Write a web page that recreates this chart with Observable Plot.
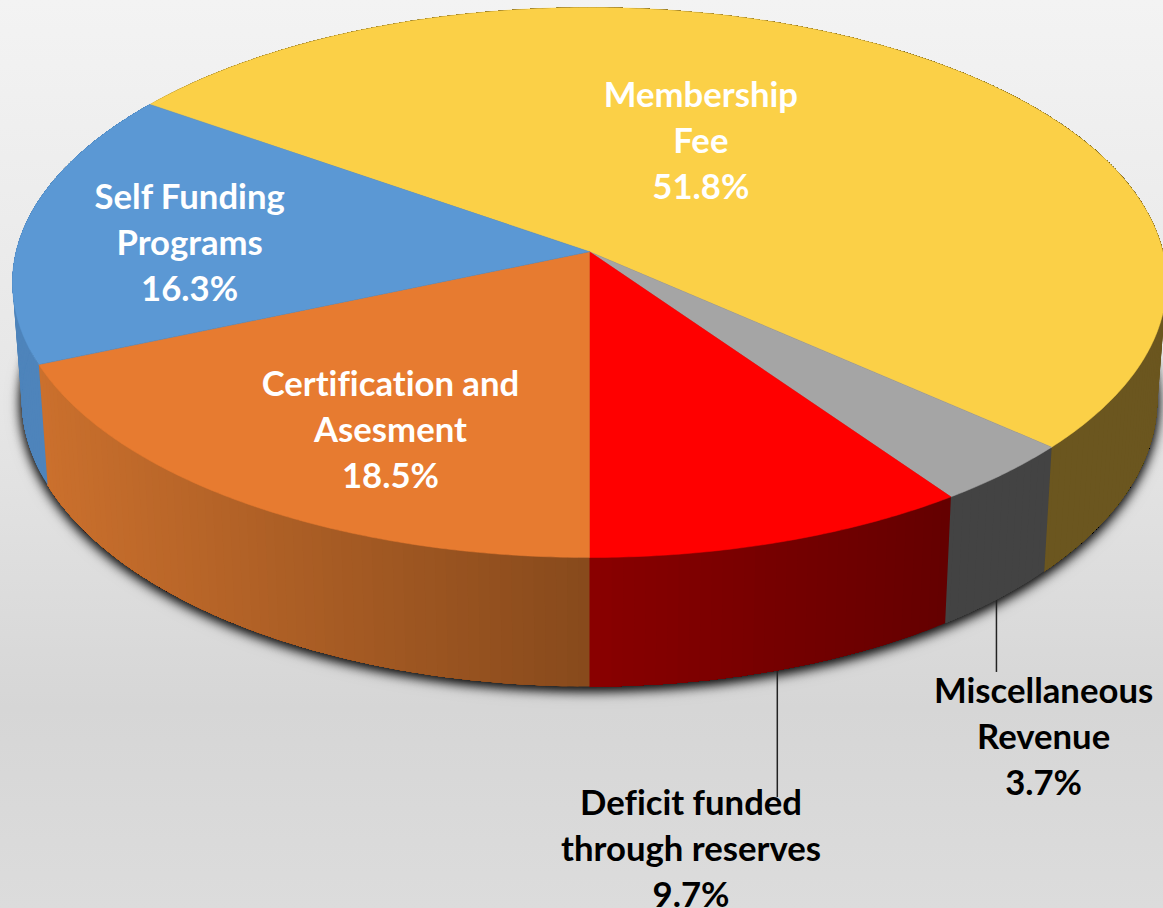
<!DOCTYPE html>
<html>
<head>
<meta charset="utf-8">
<script src="https://cdn.jsdelivr.net/npm/d3@7"></script>
<script src="https://cdn.jsdelivr.net/npm/@observablehq/plot@0.6"></script>
<style>
html,body{margin:0;padding:0;width:1163px;height:908px;overflow:hidden;
background:linear-gradient(180deg,#f3f3f3 0%,#e6e6e6 45%,#d6d6d6 78%,#dcdcdc 100%);}
svg{display:block;}
svg text{font-variant-ligatures:none;font-feature-settings:"liga" 0;}
</style>
</head>
<body>
<div id="chart"></div>
<script>
// Data, clockwise from the yellow slice
const categories = ["Membership Fee", "Miscellaneous Revenue", "Deficit funded through reserves", "Certification and Asesment", "Self Funding Programs"];
const shares = [51.8, 3.7, 9.7, 18.5, 16.3];
const labelLines = ["Membership\nFee\n51.8%", "Miscellaneous\nRevenue\n3.7%", "Deficit funded\nthrough reserves\n9.7%", "Certification and\nAsesment\n18.5%", "Self Funding\nPrograms\n16.3%"];
const topColors = ["#fbd047", "#a5a5a5", "#ff0000", "#e77b30", "#5b98d4"];
const wallFrom = ["#6b561f", "#434343", "#640000", "#884a1c", "#4e84bb"];
const wallTo = ["#6b561f", "#434343", "#8a0000", "#cb702d", "#4e84bb"];
const textColors = ["#fff", "#000", "#000", "#fff", "#fff"];

// Chart layout in disc units
const labelX = [0.193, 0.787, 0.176, -0.345, -0.693];
const labelY = [-0.524, 1.644, 2.05, 0.527, -0.153];
const leaderEndY = [null, 1.418, 1.873, null, null];
const leaderShift = [0, -0.003, -0.003, 0, 0];

const cx = 589, rx = 577, cy = 282, ry = 275, W = 1163, H = 908;
const tilt = 0.112;            // offset of the apex from the ellipse centre
const startAngle = 180 - (shares[0] + shares[1] + shares[2]) * 3.6;

const rad = d => d * Math.PI / 180;
function rimPoint(angle) {
  const sx = Math.sin(rad(angle)), sy = Math.cos(rad(angle)), den = 1 + tilt * sy;
  return [sx * Math.sqrt(1 - tilt * tilt) / den, -(sy + tilt) / den];
}
const apex = [0, -tilt];
const under = ([x, y]) => [x * 0.984, 0.425 + 1.044 * y];

// cumulative slices
let cum = startAngle;
const slices = shares.map((s, i) => {
  const a0 = cum; cum += s * 3.6;
  return {i, a0, a1: cum, mid: (a0 + cum) / 2};
});

const topRows = [], wallRows = [];
slices.forEach(s => {
  const fine = 2;
  const steps = Math.ceil((s.a1 - s.a0) * fine);
  const angles = d3.range(steps + 1).map(k => s.a0 + (s.a1 - s.a0) * k / steps);
  const rim = angles.map(rimPoint);
  [apex, ...rim, apex].forEach(([x, y]) =>
    topRows.push({id: s.i, x, y, color: topColors[s.i]}));
  const xa = under(rim[0])[0], xb = under(rim[steps])[0];
  const mix = d3.interpolateRgb(wallFrom[s.i], wallTo[s.i]);
  // each band of the wall runs on to the slice's end, so the next band paints over it without seams
  const bandEvery = 2;
  for (let k = 0; k < steps; k += bandEvery) {
    const t = Math.max(0, Math.min(1, (under(rim[k])[0] - xa) / (xb - xa)));
    const color = mix(t);
    const upper = rim.slice(k);
    const outline = [...upper, ...upper.slice().reverse().map(under), upper[0]];
    outline.forEach(([x, y]) =>
      wallRows.push({id: s.i + "-" + k, x, y, color}));
  }
});

const rimRows = d3.range(0, 361, 1).map(a => {
  const [x, y] = under(rimPoint(a));
  return {x, y};
});

const leaders = slices.filter(s => leaderEndY[s.i] !== null).map(s => {
  const [x, y] = under(rimPoint(s.mid));
  return {x: x + leaderShift[s.i], y1: y, y2: leaderEndY[s.i]};
});

const labels = slices.map(s => ({
  x: labelX[s.i], y: labelY[s.i], text: labelLines[s.i], color: textColors[s.i]
}));

const fontSize = 34.7;
const chart = Plot.plot({
  width: W, height: H, margin: 0,
  x: {domain: [(0 - cx) / rx, (W - cx) / rx], range: [0, W], axis: null},
  y: {domain: [(0 - cy) / ry, (H - cy) / ry], range: [0, H], axis: null},
  color: {type: "identity"},
  style: {background: "transparent"},
  marks: [
    Plot.line(rimRows, {x: "x", y: "y", fill: "#333", stroke: "none",
      imageFilter: "drop-shadow(0px 3px 6px rgba(0,0,0,0.95)) drop-shadow(0px 1px 4px rgba(0,0,0,0.6))"}),
    Plot.ruleX(leaders, {x: "x", y1: "y1", y2: "y2", stroke: "#222", strokeWidth: 1.5}),
    Plot.line(wallRows, {x: "x", y: "y", z: "id", fill: "color", stroke: "none"}),
    Plot.line(topRows, {x: "x", y: "y", z: "id", fill: "color", stroke: "color", strokeWidth: 0.5}),
    Plot.text(labels, {x: "x", y: "y", text: "text", fill: "color",
      fontFamily: "Lato", fontWeight: 700, fontSize, lineHeight: 46 / fontSize, textAnchor: "middle"})
  ]
});
document.getElementById("chart").appendChild(chart);
</script>
</body>
</html>
